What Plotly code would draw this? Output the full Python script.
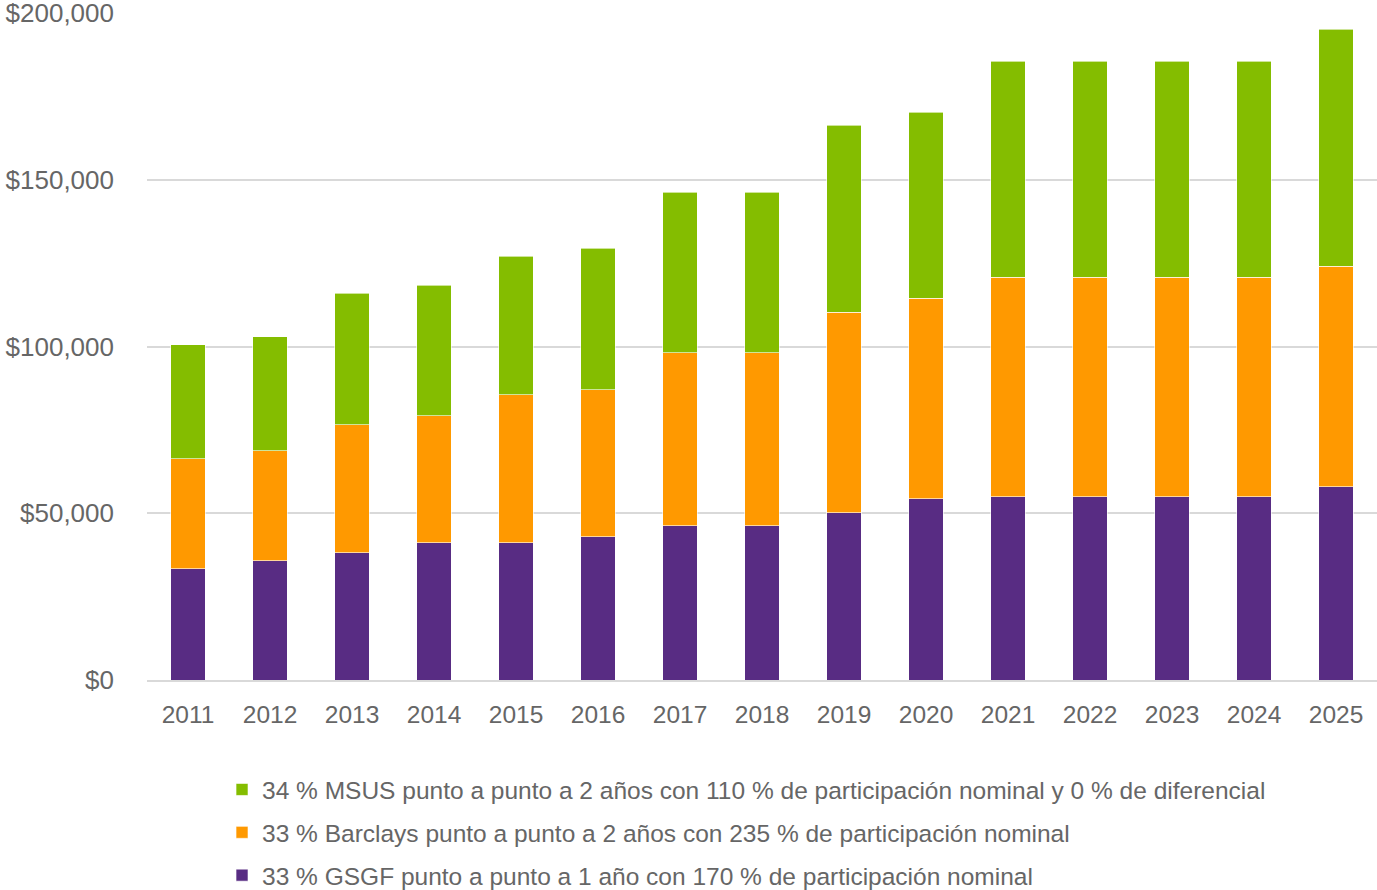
import plotly.graph_objects as go

years = ["2011", "2012", "2013", "2014", "2015", "2016", "2017", "2018",
         "2019", "2020", "2021", "2022", "2023", "2024", "2025"]

# Cumulative tops (in dollars)
gsgf_top = [33300, 35700, 38100, 41100, 41100, 42900, 46200, 46200,
            50200, 54400, 55000, 55000, 55000, 55000, 58000]
barclays_top = [66400, 68800, 76600, 79300, 85600, 87100, 98200, 98200,
                110200, 114400, 120700, 120700, 120700, 120700, 124000]
msus_top = [100600, 103000, 115900, 118300, 127000, 129400, 146200, 146200,
            166400, 170300, 185600, 185600, 185600, 185600, 195200]

gsgf = gsgf_top
barclays = [b - g for b, g in zip(barclays_top, gsgf_top)]
msus = [m - b for m, b in zip(msus_top, barclays_top)]

names = [
    "33 % GSGF punto a punto a 1 año con 170 % de participación nominal",
    "33 % Barclays punto a punto a 2 años con 235 % de participación nominal",
    "34 % MSUS punto a punto a 2 años con 110 % de participación nominal y 0 % de diferencial",
]
colors = ["#582C83", "#FF9900", "#84BD00"]
series = [gsgf, barclays, msus]
ranks = [3, 2, 1]

fig = go.Figure()
for i, (nm, col, vals, rk) in enumerate(zip(names, colors, series, ranks)):
    fig.add_trace(go.Bar(
        x=years, y=vals, name=nm, legendgroup=f"g{i}", legendrank=rk,
        marker=dict(color=col, line=dict(color="rgba(255,255,255,0.6)", width=1)),
    ))

font_family = "Liberation Sans, Arial, Helvetica, sans-serif"
fig.update_layout(
    barmode="stack",
    bargap=0.585,
    width=1377, height=890,
    margin=dict(l=147, r=0, t=13, b=210, autoexpand=False),
    plot_bgcolor="white", paper_bgcolor="white",
    font=dict(family=font_family, color="#666666", size=20),
    yaxis=dict(range=[0, 200000], tickvals=[0, 50000, 100000, 150000, 200000],
               ticktext=["$0", "$50,000", "$100,000", "$150,000", "$200,000"],
               showgrid=True, gridcolor="#d9d9d9", gridwidth=1.5,
               zeroline=False, showline=False, ticks="", ticklabelstandoff=32,
               automargin=False, ticklabeloverflow="allow",
               tickfont=dict(size=26, color="#666666")),
    xaxis=dict(showgrid=False, showline=True, linecolor="#d9d9d9", linewidth=1.5,
               ticks="", automargin=False,
               tickfont=dict(size=24.5, color="#666666"), ticklabelstandoff=12),
    legend=dict(orientation="v", x=0.061, xanchor="left", y=-0.1305, yanchor="top",
                traceorder="grouped", tracegroupgap=8,
                font=dict(size=24.5, color="#666666")),
    showlegend=True,
)

fig.write_html("out.html",
               config={"displayModeBar": False},
               post_script="document.body.style.margin='0';document.body.style.overflow='hidden';")
